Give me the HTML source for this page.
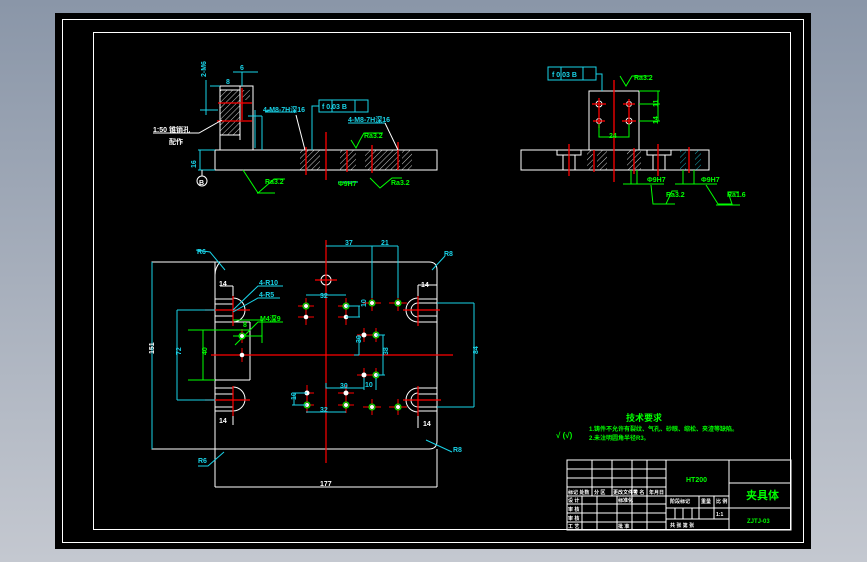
<!DOCTYPE html>
<html><head><meta charset="utf-8">
<style>
html,body{margin:0;padding:0;width:867px;height:562px;overflow:hidden;background:linear-gradient(#8a96a8,#c4c8d0);}
svg{display:block}
text{font-family:"Liberation Sans","Noto Sans CJK SC",sans-serif;font-weight:bold}
</style></head><body>
<svg width="867" height="562" viewBox="0 0 867 562" xmlns="http://www.w3.org/2000/svg">
<defs>
<pattern id="h" width="4" height="4" patternUnits="userSpaceOnUse" patternTransform="rotate(45)"><line x1="0" y1="0" x2="0" y2="4" stroke="#fff" stroke-width="0.8"/></pattern>
<pattern id="hc" width="4" height="4" patternUnits="userSpaceOnUse" patternTransform="rotate(45)"><line x1="0" y1="0" x2="0" y2="4" stroke="#19d3e8" stroke-width="0.8"/></pattern>
</defs>
<rect x="55" y="13" width="756" height="536" fill="#000"/>
<rect x="62.5" y="19.5" width="741" height="523" fill="none" stroke="#fff"/>
<rect x="93.5" y="32.5" width="697" height="497" fill="none" stroke="#fff"/>

<g fill="none" stroke-width="1">
<!-- TOP LEFT VIEW -->
<g stroke="#fff">
<rect x="215" y="150" width="222" height="20"/>
<polyline points="220,150 220,86 253,86 253,150"/>
<line x1="240" y1="86" x2="240" y2="140"/>
</g>
<rect x="220" y="90" width="20" height="45" fill="url(#h)" stroke="#fff"/>
<rect x="242" y="90" width="8" height="10" fill="url(#h)"/>
<rect x="300" y="150" width="20" height="20" fill="url(#h)"/>
<rect x="340" y="150" width="16" height="20" fill="url(#h)"/>
<rect x="365" y="150" width="15" height="20" fill="url(#h)"/>
<rect x="380" y="150" width="20" height="20" fill="url(#h)"/>
<rect x="402" y="150" width="10" height="20" fill="url(#h)"/>
<g stroke="#f00" stroke-width="1.3">
<line x1="306" y1="147" x2="306" y2="175"/><line x1="326" y1="132" x2="326" y2="180"/>
<line x1="347" y1="150" x2="347" y2="172"/><line x1="372" y1="145" x2="372" y2="173"/>
<line x1="398" y1="142" x2="398" y2="170"/><line x1="242" y1="88" x2="242" y2="120"/>
<line x1="218" y1="103" x2="252" y2="103"/><line x1="217" y1="121" x2="252" y2="121"/>
</g>
<g stroke="#19d3e8">
<line x1="233" y1="72" x2="258" y2="72"/><line x1="242" y1="72" x2="242" y2="86"/>
<line x1="220" y1="86" x2="210" y2="86"/><line x1="206" y1="80" x2="206" y2="115"/>
<line x1="200" y1="110" x2="218" y2="110"/><line x1="255" y1="110" x2="255" y2="148"/>
<line x1="248" y1="116" x2="262" y2="116"/><line x1="262" y1="116" x2="262" y2="150"/>
<line x1="198" y1="150" x2="215" y2="150"/><line x1="198" y1="170" x2="215" y2="170"/>
<line x1="200" y1="150" x2="200" y2="170"/>
<rect x="319" y="100" width="49" height="12"/><line x1="332" y1="100" x2="332" y2="112"/><line x1="355" y1="100" x2="355" y2="112"/>
<polyline points="319,106 312,106 312,150"/>
<line x1="265" y1="112" x2="296" y2="112"/><line x1="265" y1="112" x2="270" y2="110"/>
<line x1="348" y1="123" x2="385" y2="123"/>
<line x1="338" y1="182" x2="358" y2="182"/>
</g>
<g stroke="#fff"><polyline points="296,115 305,150"/><polyline points="385,123 398,150"/>
<polyline points="153,133 199,133 222,120"/><circle cx="202" cy="181" r="5"/><line x1="202" y1="170" x2="202" y2="176"/></g>
<g stroke="#0f0">
<polyline points="243,170 258,193 274,179 285,179"/><line x1="257" y1="193" x2="275" y2="193"/>
<polyline points="351,140 356,148 360,140 364,133 383,133"/>
<polyline points="370,178 380,188 392,178 402,178"/>
</g>
<g font-size="7">
<text x="240" y="70" fill="#19d3e8">6</text><text x="226" y="84" fill="#19d3e8">8</text>
<text x="213" y="84" fill="#19d3e8" transform="rotate(-90 206 84)">2-M6</text>
<text x="263" y="112" fill="#19d3e8">4-M8-7H深16</text>
<text x="348" y="122" fill="#19d3e8">4-M8-7H深16</text>
<text x="322" y="109" fill="#19d3e8">f  0.03  B</text>
<text x="153" y="132" fill="#fff">1:50 锥销孔</text><text x="169" y="144" fill="#fff">配作</text>
<text x="199" y="185" fill="#fff">B</text>
<text x="192" y="164" fill="#19d3e8" transform="rotate(-90 196 164)">16</text>
<text x="338" y="186" fill="#0f0">Φ9H7</text>
<text x="265" y="184" fill="#0f0">Ra3.2</text><text x="364" y="138" fill="#0f0">Ra3.2</text><text x="391" y="185" fill="#0f0">Ra3.2</text>
</g>

<!-- TOP RIGHT VIEW -->
<g stroke="#fff">
<rect x="521" y="150" width="188" height="20"/>
<rect x="589" y="91" width="50" height="59"/>
<polyline points="557,150 557,155 581,155 581,150"/><line x1="563" y1="155" x2="563" y2="170"/><line x1="575" y1="155" x2="575" y2="170"/>
<polyline points="647,150 647,155 671,155 671,150"/><line x1="653" y1="155" x2="653" y2="170"/><line x1="665" y1="155" x2="665" y2="170"/>
<circle cx="599" cy="104" r="3"/><circle cx="629" cy="104" r="2.5"/><circle cx="599" cy="121" r="2.5"/><circle cx="629" cy="121" r="3"/>
</g>
<rect x="587" y="150" width="6" height="20" fill="url(#h)"/><rect x="597" y="150" width="10" height="20" fill="url(#h)"/>
<rect x="627" y="150" width="14" height="20" fill="url(#h)"/>
<rect x="680" y="150" width="6" height="20" fill="url(#hc)"/><rect x="695" y="150" width="6" height="20" fill="url(#hc)"/>
<g stroke="#f00" stroke-width="1.3">
<line x1="614" y1="80" x2="614" y2="182"/><line x1="569" y1="144" x2="569" y2="176"/><line x1="594" y1="150" x2="594" y2="172"/>
<line x1="634" y1="148" x2="634" y2="174"/><line x1="658" y1="144" x2="658" y2="176"/><line x1="689" y1="147" x2="689" y2="173"/>
<line x1="592" y1="104" x2="606" y2="104"/><line x1="599" y1="98" x2="599" y2="128"/><line x1="623" y1="104" x2="635" y2="104"/><line x1="629" y1="99" x2="629" y2="125"/>
<line x1="593" y1="121" x2="605" y2="121"/><line x1="622" y1="121" x2="636" y2="121"/>
</g>
<g stroke="#19d3e8"><rect x="548" y="67" width="48" height="13"/><line x1="561" y1="67" x2="561" y2="80"/><line x1="583" y1="67" x2="583" y2="80"/>
<polyline points="596,74 602,74 602,91"/></g>
<g stroke="#0f0">
<line x1="639" y1="91" x2="660" y2="91"/><line x1="639" y1="104" x2="660" y2="104"/><line x1="639" y1="121" x2="660" y2="121"/><line x1="658" y1="91" x2="658" y2="121"/>
<polyline points="599,124 599,137 629,137 629,124"/>
<polyline points="620,76 626,86 632,76 650,76"/>
<line x1="623" y1="184" x2="664" y2="184"/><line x1="631" y1="170" x2="631" y2="184"/><line x1="637" y1="170" x2="637" y2="184"/>
<line x1="675" y1="184" x2="717" y2="184"/><line x1="683" y1="170" x2="683" y2="184"/><line x1="694" y1="170" x2="694" y2="184"/>
<polyline points="651,185 653,204 666,204 672,191 678,191"/><line x1="653" y1="204" x2="675" y2="204"/>
<polyline points="706,185 718,204 732,204 728,192 739,192"/><line x1="716" y1="205" x2="740" y2="205"/>
</g>
<g font-size="7">
<text x="552" y="77" fill="#19d3e8">f  0.03  B</text>
<text x="609" y="138" fill="#0f0">24</text>
<text x="655" y="104" fill="#0f0" transform="rotate(-90 658 104)">11</text>
<text x="655" y="121" fill="#0f0" transform="rotate(-90 658 121)">14</text>
<text x="634" y="80" fill="#0f0">Ra3.2</text>
<text x="647" y="182" fill="#0f0">Φ9H7</text><text x="701" y="182" fill="#0f0">Φ9H7</text>
<text x="666" y="197" fill="#0f0">Ra3.2</text><text x="727" y="197" fill="#0f0">Ra1.6</text>
</g>

<!-- PLAN VIEW -->
<g stroke="#fff">
<path d="M152,262 H429 Q437,262 437,270 V441 Q437,449 429,449 H152 Z"/>
<line x1="215" y1="262" x2="215" y2="487"/><line x1="437" y1="449" x2="437" y2="487"/>
<line x1="215" y1="487" x2="437" y2="487"/>
<!-- left slots -->
<polyline points="215,299 233,299"/><polyline points="215,304 233,304"/>
<polyline points="233,286 233,304"/><line x1="220" y1="286" x2="233" y2="286"/>
<path d="M233,298 A12,12 0 0 1 233,322"/><path d="M233,387 A12,12 0 0 1 233,411"/>
<line x1="215" y1="316" x2="233" y2="316"/><line x1="215" y1="322" x2="250" y2="322"/><line x1="250" y1="322" x2="250" y2="380"/><line x1="215" y1="380" x2="250" y2="380"/>
<line x1="215" y1="388" x2="233" y2="388"/><line x1="215" y1="394" x2="233" y2="394"/>
<line x1="215" y1="407" x2="233" y2="407"/><line x1="215" y1="411" x2="233" y2="411"/><line x1="233" y1="411" x2="233" y2="425"/>
<path d="M220,262 Q215,268 215,275"/>
<!-- right slots -->
<line x1="418" y1="285" x2="437" y2="285"/><line x1="418" y1="285" x2="418" y2="303"/>
<line x1="418" y1="299" x2="437" y2="299"/><line x1="418" y1="303" x2="437" y2="303"/>
<path d="M418,298 A12,12 0 0 0 418,322"/><path d="M418,303 A7,7 0 0 0 418,317"/>
<line x1="418" y1="316" x2="437" y2="316"/><line x1="418" y1="322" x2="437" y2="322"/>
<line x1="418" y1="388" x2="437" y2="388"/><line x1="418" y1="394" x2="437" y2="394"/>
<path d="M418,388 A12,12 0 0 0 418,412"/><path d="M418,393 A7,7 0 0 0 418,407"/>
<line x1="418" y1="407" x2="437" y2="407"/><line x1="418" y1="411" x2="437" y2="411"/><line x1="418" y1="411" x2="418" y2="428"/>
<circle cx="326" cy="280" r="5"/>
</g>
<g stroke="#f00" stroke-width="1.2">
<line x1="326" y1="240" x2="326" y2="463"/><line x1="211" y1="355" x2="453" y2="355"/>
<line x1="315" y1="280" x2="337" y2="280"/>
<line x1="205" y1="310" x2="250" y2="310"/><line x1="233" y1="296" x2="233" y2="326"/>
<line x1="205" y1="400" x2="250" y2="400"/><line x1="233" y1="386" x2="233" y2="416"/>
<line x1="403" y1="310" x2="440" y2="310"/><line x1="418" y1="296" x2="418" y2="326"/>
<line x1="403" y1="400" x2="441" y2="400"/><line x1="418" y1="386" x2="418" y2="416"/>
</g>
<g stroke="#f00" stroke-width="1">
<path d="M298,306h16M306,298v16M298,317h16M306,309v16M338,306h16M346,298v16M338,317h16M346,309v16"/>
<path d="M363,303h18M372,295v16M389,303h18M398,295v16"/>
<path d="M357,335h14M364,328v14M369,335h14M376,328v14M357,375h14M364,368v14M369,375h14M376,368v14"/>
<path d="M298,393h16M307,385v16M298,405h16M307,397v16M338,393h16M346,385v16M338,405h16M346,397v16"/>
<path d="M363,407h18M372,399v16M389,407h18M398,399v16"/>
<path d="M235,336h14M242,329v14M235,355h14M242,348v14"/>
</g>
<g stroke="#0f0">
<circle cx="306" cy="306" r="3"/><circle cx="346" cy="306" r="3"/><circle cx="372" cy="303" r="3"/><circle cx="398" cy="303" r="3"/>
<circle cx="376" cy="335" r="3"/><circle cx="376" cy="375" r="3"/><circle cx="307" cy="405" r="3"/><circle cx="346" cy="405" r="3"/>
<circle cx="372" cy="407" r="3"/><circle cx="398" cy="407" r="3"/><circle cx="242" cy="336" r="3"/>
<polyline points="203,330 203,380"/><line x1="188" y1="330" x2="250" y2="330"/><line x1="188" y1="380" x2="215" y2="380"/>
<line x1="233" y1="320" x2="262" y2="320"/><line x1="262" y1="320" x2="262" y2="343"/><line x1="233" y1="336" x2="262" y2="336"/>
<polyline points="235,345 258,322 283,322"/>
</g>
<g fill="#fff">
<circle cx="306" cy="306" r="2"/><circle cx="306" cy="317" r="2.3"/><circle cx="346" cy="306" r="2"/><circle cx="346" cy="317" r="2.3"/>
<circle cx="372" cy="303" r="2"/><circle cx="398" cy="303" r="2"/><circle cx="364" cy="335" r="2.5"/><circle cx="376" cy="335" r="2"/>
<circle cx="364" cy="375" r="2.5"/><circle cx="376" cy="375" r="2"/><circle cx="307" cy="393" r="2.5"/><circle cx="307" cy="405" r="2"/>
<circle cx="346" cy="393" r="2.5"/><circle cx="346" cy="405" r="2"/><circle cx="372" cy="407" r="2"/><circle cx="398" cy="407" r="2"/>
<circle cx="242" cy="336" r="2"/><circle cx="242" cy="355" r="2.3"/>
</g>
<g stroke="#19d3e8">
<line x1="326" y1="246" x2="372" y2="246"/><line x1="372" y1="246" x2="398" y2="246"/><line x1="372" y1="246" x2="372" y2="298"/><line x1="398" y1="246" x2="398" y2="298"/>
<line x1="306" y1="295" x2="346" y2="295"/><line x1="306" y1="412" x2="346" y2="412"/>
<line x1="346" y1="306" x2="360" y2="306"/><line x1="346" y1="317" x2="360" y2="317"/><line x1="359" y1="306" x2="359" y2="317"/>
<line x1="359" y1="335" x2="359" y2="355"/><line x1="354" y1="355" x2="359" y2="355"/>
<line x1="383" y1="335" x2="383" y2="375"/><line x1="376" y1="335" x2="385" y2="335"/><line x1="376" y1="375" x2="385" y2="375"/>
<polyline points="326,383 326,388 364,388"/><line x1="364" y1="378" x2="364" y2="390"/><line x1="376" y1="378" x2="376" y2="390"/>
<line x1="292" y1="393" x2="307" y2="393"/><line x1="292" y1="405" x2="307" y2="405"/><line x1="294" y1="393" x2="294" y2="405"/>
<line x1="177" y1="310" x2="215" y2="310"/><line x1="177" y1="400" x2="215" y2="400"/><line x1="177" y1="310" x2="177" y2="400"/>
<line x1="437" y1="303" x2="474" y2="303"/><line x1="437" y1="407" x2="474" y2="407"/><line x1="474" y1="303" x2="474" y2="407"/>
<line x1="152" y1="262" x2="152" y2="449"/>
<polyline points="196,250 210,252 225,270"/><polyline points="445,256 432,270"/>
<polyline points="224,452 208,466 198,466"/><polyline points="426,440 452,452"/>
<polyline points="233,310 258,286 283,286"/><polyline points="233,312 258,298 280,298"/>
</g>
<g font-size="7">
<text x="345" y="245" fill="#19d3e8">37</text><text x="381" y="245" fill="#19d3e8">21</text>
<text x="320" y="298" fill="#19d3e8">32</text><text x="320" y="412" fill="#19d3e8">32</text>
<text x="340" y="388" fill="#19d3e8">30</text><text x="365" y="387" fill="#19d3e8">10</text>
<text x="197" y="254" fill="#19d3e8">R6</text><text x="444" y="256" fill="#19d3e8">R8</text>
<text x="198" y="463" fill="#19d3e8">R6</text><text x="453" y="452" fill="#19d3e8">R8</text>
<text x="259" y="285" fill="#19d3e8">4-R10</text><text x="259" y="297" fill="#19d3e8">4-R5</text>
<text x="260" y="321" fill="#0f0">M4深9</text><text x="243" y="327" fill="#0f0">8</text>
<text x="364" y="319" fill="#19d3e8" transform="rotate(-90 359 312)">10</text>
<text x="359" y="349" fill="#19d3e8" transform="rotate(-90 357 345)">30</text>
<text x="383" y="360" fill="#19d3e8" transform="rotate(-90 383 355)">38</text>
<text x="291" y="403" fill="#19d3e8" transform="rotate(-90 292 399)">10</text>
<text x="177" y="359" fill="#19d3e8" transform="rotate(-90 177 355)">72</text>
<text x="203" y="359" fill="#0f0" transform="rotate(-90 203 355)">40</text>
<text x="475" y="359" fill="#19d3e8" transform="rotate(-90 474 355)">84</text>
<text x="151" y="359" fill="#fff" transform="rotate(-90 150 355)">151</text>
<text x="320" y="486" fill="#fff">177</text>
<text x="219" y="286" fill="#fff">14</text><text x="219" y="423" fill="#fff">14</text>
<text x="421" y="287" fill="#fff">14</text><text x="423" y="426" fill="#fff">14</text>
</g>

<!-- TECH REQUIREMENTS -->
<g fill="#0f0">
<text x="626" y="421" font-size="9">技术要求</text>
<text x="589" y="431" font-size="6">1.铸件不允许有裂纹、气孔、砂眼、缩松、夹渣等缺陷。</text>
<text x="589" y="440" font-size="6">2.未注明圆角半径R3。</text>
<text x="556" y="438" font-size="8">√ (√)</text>
</g>

<!-- TITLE BLOCK -->
<g stroke="#fff">
<rect x="567" y="460" width="224" height="70"/>
<line x1="567" y1="469" x2="666" y2="469"/><line x1="567" y1="478" x2="666" y2="478"/><line x1="567" y1="487" x2="666" y2="487"/>
<line x1="567" y1="496" x2="729" y2="496"/><line x1="567" y1="504" x2="666" y2="504"/><line x1="567" y1="513" x2="666" y2="513"/><line x1="567" y1="522" x2="666" y2="522"/>
<line x1="592" y1="460" x2="592" y2="496"/><line x1="612" y1="460" x2="612" y2="496"/><line x1="632" y1="460" x2="632" y2="530"/><line x1="647" y1="460" x2="647" y2="530"/>
<line x1="582" y1="496" x2="582" y2="530"/><line x1="597" y1="496" x2="597" y2="530"/><line x1="617" y1="496" x2="617" y2="530"/>
<line x1="666" y1="460" x2="666" y2="530"/><line x1="729" y1="460" x2="729" y2="530"/>
<line x1="666" y1="508" x2="729" y2="508"/><line x1="666" y1="519" x2="729" y2="519"/>
<line x1="699" y1="496" x2="699" y2="519"/><line x1="714" y1="496" x2="714" y2="519"/>
<line x1="675" y1="508" x2="675" y2="519"/><line x1="683" y1="508" x2="683" y2="519"/><line x1="692" y1="508" x2="692" y2="519"/>
<line x1="729" y1="483" x2="791" y2="483"/><line x1="729" y1="508" x2="791" y2="508"/>
</g>
<g font-size="5" fill="#fff">
<text x="568" y="494">标记 处数</text><text x="594" y="494">分 区</text><text x="613" y="494">更改文件号</text><text x="633" y="494">签 名</text><text x="649" y="494">年月日</text>
<text x="568" y="502">设 计</text><text x="568" y="511">审 核</text><text x="568" y="520">审 核</text><text x="568" y="528">工 艺</text>
<text x="618" y="502">标准化</text><text x="618" y="528">批 准</text>
<text x="670" y="503">阶段标记</text><text x="701" y="503">重量</text><text x="716" y="503">比 例</text>
<text x="716" y="516">1:1</text><text x="670" y="527">共  张  第  张</text>
</g>
<text x="686" y="482" font-size="7" fill="#0f0">HT200</text>
<text x="746" y="499" font-size="11" fill="#0f0">夹具体</text>
<text x="747" y="523" font-size="6" fill="#0f0">ZJTJ-03</text>
</g>
</svg>
</body></html>
